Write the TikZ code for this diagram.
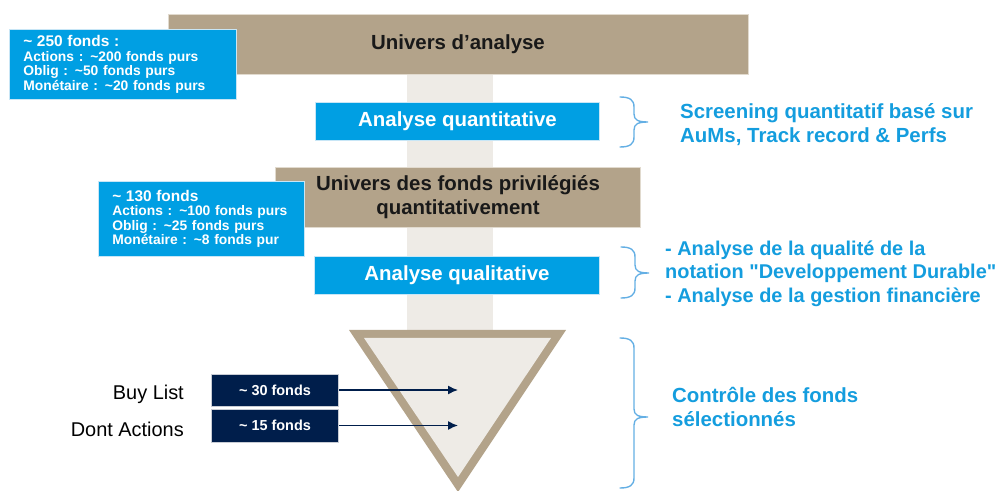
\documentclass[tikz,border=0pt]{standalone}
\usepackage{fontspec}
\setmainfont{Liberation Sans}
\usetikzlibrary{arrows.meta}
\definecolor{tanc}{RGB}{179,163,138}
\definecolor{stripc}{RGB}{238,235,230}
\definecolor{bbluec}{RGB}{0,159,227}
\definecolor{navyc}{RGB}{0,30,75}
\definecolor{tbluec}{RGB}{20,157,222}
\definecolor{brcc}{RGB}{100,175,228}
\definecolor{dtextc}{RGB}{25,25,25}
\newcommand\myfs[2]{\fontsize{#1}{#2}\selectfont}
\newcommand\tl{\textasciitilde}
\newcommand\mybrace[4]{%
  \draw[bracestyle] (#1,#2) .. controls ({#1+10},#2) and ({#1+14},{#2+3}) .. ({#1+14},{#2+10})
    -- ({#1+14},{#4-8}) .. controls ({#1+14},{#4-2}) and ({#1+18},#4) .. ({#1+28},#4)
    .. controls ({#1+18},#4) and ({#1+14},{#4+2}) .. ({#1+14},{#4+8})
    -- ({#1+14},{#3-10}) .. controls ({#1+14},{#3-3}) and ({#1+10},#3) .. (#1,#3);}
\tikzset{
  tanbar/.style={fill=tanc, draw={rgb,255:red,225;green,218;blue,206}, line width=0.8, text=dtextc,
    font=\bfseries\myfs{20.5}{24}, align=center, inner sep=0},
  bluebar/.style={fill=bbluec, draw={rgb,255:red,200;green,230;blue,246}, line width=0.8, text=white,
    font=\bfseries\myfs{20.5}{24}, inner sep=0},
  infobox/.style={fill=bbluec, draw={rgb,255:red,200;green,230;blue,246}, line width=0.8, text=white,
    align=left, inner xsep=14, inner ysep=0, font=\bfseries\myfs{13.9}{14.5}},
  navybox/.style={fill=navyc, draw={rgb,255:red,200;green,204;blue,212}, line width=0.8, text=white,
    font=\bfseries\myfs{14.5}{17}, inner sep=0},
  sidetext/.style={text=tbluec, font=\bfseries\myfs{20.5}{24.5}, align=left, anchor=west, inner sep=0},
  leftlabel/.style={text=black, font=\myfs{20}{24}, anchor=east, inner sep=0},
  bracestyle/.style={draw=brcc, line width=1.4, line cap=round},
  arr/.style={draw=navyc, line width=1.4, -{Latex[length=10, width=9]}}
}
\begin{document}
\begin{tikzpicture}[x=1bp, y=-1bp]
\useasboundingbox (0,0) rectangle (1004,491);
% light vertical strip
\fill[stripc] (407,75) rectangle (493,332);
% top bar
\node[tanbar, minimum width=582, minimum height=61] (univ) at (458,44.5) {Univers d’analyse};
% info box 1
\node[infobox, text width=200, minimum height=71] (info1) at (123,64.5)
  {{\myfs{15.5}{17}\tl{} 250 fonds :}\\Actions : \tl{}200 fonds purs\\Oblig : \tl{}50 fonds purs\\Monétaire : \tl{}20 fonds purs};
% analyse quantitative
\node[bluebar, minimum width=285, minimum height=38] (aquant) at (457.5,121) {Analyse quantitative};
% second tan bar
\node[tanbar, minimum width=366, minimum height=61] (univ2) at (458,197.5) {Univers des fonds privilégiés\\quantitativement};
% info box 2
\node[infobox, text width=179, minimum height=76] (info2) at (201.5,219)
  {{\myfs{15.5}{17}\tl{} 130 fonds}\\Actions : \tl{}100 fonds purs\\Oblig : \tl{}25 fonds purs\\Monétaire : \tl{}8 fonds pur};
% analyse qualitative
\node[bluebar, minimum width=286, minimum height=38] (aqual) at (457,275) {Analyse qualitative};
% triangle
\fill[tanc] (349,330) -- (566,330) -- (458,492) -- cycle;
\fill[stripc] (364,338) -- (551,338) -- (458,477) -- cycle;
% navy boxes
\node[navybox, minimum width=128, minimum height=32] (buy) at (275,390) {\tl{} 30 fonds};
\node[navybox, minimum width=128, minimum height=33] (dont) at (275,425.5) {\tl{} 15 fonds};
\node[leftlabel] (buyl) at (184,394) {Buy List};
\node[leftlabel] (dontl) at (184,429) {Dont Actions};
\coordinate (tip1) at (458,390);
\coordinate (tip2) at (458,425.5);
\draw[arr] (buy.east) -- (tip1);
\draw[arr] (dont.east) -- (tip2);
% braces
\mybrace{620}{97}{147}{122}
\mybrace{621}{247}{298}{273}
\mybrace{620}{338}{488}{417}
% side texts
\node[sidetext] (t1) at (680,124.5) {Screening quantitatif basé sur\\AuMs, Track record \& Perfs};
\node[sidetext, font=\bfseries\myfs{20}{23.5}] (t2) at (665,273.5) {- Analyse de la qualité de la\\notation \textquotedbl Developpement Durable\textquotedbl\\- Analyse de la gestion financière};
\node[sidetext] (t3) at (672,407) {Contrôle des fonds\\sélectionnés};
\end{tikzpicture}
\end{document}
